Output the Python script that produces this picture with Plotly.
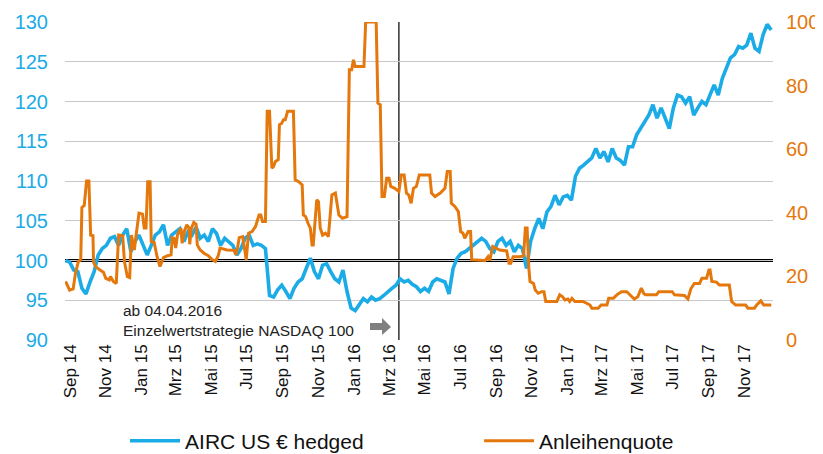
import plotly.graph_objects as go
import pandas as pd

# ---------------- data ----------------
airc_start = "2014-09-10"
airc_values = [
    100.0, 99.8, 98.8, 98.6, 96.5, 95.8, 97.3, 98.6, 100.7, 101.5,
    101.9, 102.8, 103.0, 101.9, 103.2, 104.0, 101.1, 102.4, 103.2, 101.9,
    100.7, 101.9, 103.2, 103.6, 104.5, 101.9, 103.2, 103.6, 104.0, 102.4,
    103.6, 103.2, 104.2, 102.8, 103.2, 102.4, 104.0, 103.4, 101.9, 102.8,
    102.4, 101.9, 100.7, 101.5, 102.8, 103.2, 101.9, 102.1, 101.9, 101.5,
    95.6, 95.4, 96.3, 96.9, 96.1, 95.2, 96.5, 97.3, 97.7, 99.0,
    100.3, 98.6, 97.7, 99.4, 99.6, 98.6, 97.7, 97.3, 98.8, 96.1,
    94.0, 93.7, 94.4, 95.2, 94.8, 95.4, 95.0, 95.2, 95.6, 96.1,
    96.5, 96.9, 97.7, 97.3, 97.5, 97.0, 96.7, 96.1, 96.5, 96.1,
    97.3, 97.7, 97.5, 97.3, 95.8, 99.0, 100.3, 100.9, 101.1, 101.5,
    101.9, 102.4, 102.8, 102.4, 101.5, 101.1, 102.4, 102.8, 101.9, 102.4,
    101.1, 101.9, 101.5, 99.0, 102.4, 104.0, 105.3, 104.0, 106.1, 106.8,
    108.2, 107.0, 108.0, 108.2, 107.6, 110.6, 111.6, 112.0, 112.5, 112.9,
    114.1, 112.9, 113.7, 112.4, 114.1, 112.9, 112.6, 112.0, 114.3, 114.3,
    115.8, 116.6, 117.5, 118.3, 119.6, 117.9, 119.2, 117.9, 116.6, 119.2,
    120.8, 120.6, 119.8, 120.6, 118.3, 119.2, 120.0, 119.6, 120.8, 122.1,
    120.8, 122.9, 124.2, 125.5, 125.9, 126.9, 126.7, 127.1, 128.6, 126.7,
    126.3, 128.4, 129.7, 129.0,
]
airc_dates = pd.date_range(airc_start, periods=len(airc_values), freq="7D")

quote_dates = [
    "2014-09-10", "2014-09-17", "2014-09-23", "2014-09-27", "2014-10-02", "2014-10-06",
    "2014-10-08", "2014-10-12", "2014-10-16", "2014-10-20", "2014-10-23", "2014-10-27",
    "2014-10-28", "2014-11-01", "2014-11-08", "2014-11-14", "2014-11-18", "2014-11-24",
    "2014-11-26", "2014-12-01", "2014-12-06", "2014-12-10", "2014-12-17", "2014-12-20",
    "2014-12-25", "2014-12-29", "2015-01-01", "2015-01-06", "2015-01-09", "2015-01-14",
    "2015-01-20", "2015-01-23", "2015-01-26", "2015-01-29", "2015-02-02", "2015-02-04",
    "2015-02-09", "2015-02-14", "2015-02-19", "2015-02-25", "2015-03-04", "2015-03-10",
    "2015-03-12", "2015-03-15", "2015-03-18", "2015-03-21", "2015-03-27", "2015-03-29",
    "2015-04-02", "2015-04-06", "2015-04-10", "2015-04-11", "2015-04-14", "2015-04-18",
    "2015-04-22", "2015-04-24", "2015-04-29", "2015-05-06", "2015-05-13", "2015-05-19",
    "2015-05-25", "2015-05-30", "2015-06-02", "2015-06-14", "2015-06-26", "2015-06-29",
    "2015-07-02", "2015-07-05", "2015-07-11", "2015-07-17", "2015-07-21", "2015-07-27",
    "2015-08-02", "2015-08-08", "2015-08-11", "2015-08-14", "2015-08-19", "2015-08-22",
    "2015-08-26", "2015-08-30", "2015-09-02", "2015-09-05", "2015-09-10", "2015-09-12",
    "2015-09-16", "2015-09-19", "2015-09-22", "2015-09-26", "2015-10-06", "2015-10-09",
    "2015-10-15", "2015-10-21", "2015-10-23", "2015-10-27", "2015-10-31", "2015-11-04",
    "2015-11-07", "2015-11-09", "2015-11-15", "2015-11-18", "2015-11-21", "2015-11-25",
    "2015-11-30", "2015-12-05", "2015-12-11", "2015-12-17", "2015-12-23", "2015-12-29",
    "2016-01-06", "2016-01-10", "2016-01-14", "2016-01-17", "2016-01-20", "2016-02-04",
    "2016-02-07", "2016-02-25", "2016-02-28", "2016-03-03", "2016-03-06", "2016-03-10",
    "2016-03-14", "2016-03-18", "2016-03-21", "2016-03-28", "2016-04-04", "2016-04-08",
    "2016-04-13", "2016-04-17", "2016-04-21", "2016-04-25", "2016-04-29", "2016-05-04",
    "2016-05-09", "2016-05-27", "2016-05-30", "2016-06-05", "2016-06-14", "2016-06-22",
    "2016-06-26", "2016-07-01", "2016-07-03", "2016-07-09", "2016-07-15", "2016-07-19",
    "2016-07-23", "2016-07-26", "2016-08-01", "2016-08-05", "2016-08-07", "2016-08-30",
    "2016-09-04", "2016-09-07", "2016-09-12", "2016-09-24", "2016-10-06", "2016-10-10",
    "2016-10-13", "2016-10-17", "2016-10-29", "2016-11-04", "2016-11-07", "2016-11-10",
    "2016-11-13", "2016-11-15", "2016-11-21", "2016-11-24", "2016-11-29", "2016-12-05",
    "2016-12-09", "2016-12-12", "2016-12-31", "2017-01-05", "2017-01-10", "2017-01-14",
    "2017-01-19", "2017-01-22", "2017-01-26", "2017-01-31", "2017-02-14", "2017-02-20",
    "2017-02-26", "2017-03-01", "2017-03-12", "2017-03-17", "2017-03-27", "2017-03-30",
    "2017-04-07", "2017-04-13", "2017-04-21", "2017-04-30", "2017-05-05", "2017-05-13",
    "2017-05-19", "2017-05-25", "2017-05-29", "2017-06-01", "2017-06-20", "2017-06-24",
    "2017-07-17", "2017-07-21", "2017-08-07", "2017-08-13", "2017-08-18", "2017-08-24",
    "2017-09-02", "2017-09-06", "2017-09-14", "2017-09-18", "2017-09-20", "2017-09-23",
    "2017-10-01", "2017-10-06", "2017-10-23", "2017-10-27", "2017-11-03", "2017-11-20",
    "2017-11-24", "2017-12-05", "2017-12-09", "2017-12-16", "2017-12-21", "2018-01-03",
]
quote_values = [
    18.4, 15.7, 16.1, 21.0, 24.7, 25.2,
    41.7, 42.3, 50.0, 50.0, 33.0, 32.8,
    24.4, 23.0, 22.0, 21.3, 19.4, 18.9,
    20.0, 18.4, 17.8, 33.0, 32.8, 24.7,
    19.9, 19.6, 33.0, 28.3, 33.0, 39.9,
    39.6, 35.2, 35.2, 49.8, 49.8, 31.0,
    30.7, 26.2, 23.1, 25.9, 26.5, 26.8,
    32.2, 32.0, 28.9, 33.0, 35.2, 30.4,
    34.3, 36.2, 35.2, 30.1, 35.2, 37.0,
    36.4, 29.9, 28.3, 27.2, 26.5, 25.4,
    24.7, 26.5, 28.9, 28.3, 28.2, 26.8,
    28.9, 32.2, 32.5, 25.2, 33.6, 34.1,
    35.7, 39.3, 39.3, 37.3, 37.3, 71.9,
    71.9, 54.0, 54.6, 56.1, 56.7, 67.7,
    68.2, 69.3, 69.3, 71.9, 71.9, 50.4,
    49.8, 48.8, 39.3, 38.8, 36.7, 35.2,
    29.9, 29.9, 44.1, 43.5, 35.2, 33.0,
    33.6, 32.5, 45.6, 46.2, 39.3, 38.3,
    38.8, 85.0, 85.0, 88.1, 86.0, 86.0,
    100.0, 100.0, 74.5, 74.0, 45.1, 45.1,
    50.9, 50.9, 48.3, 47.7, 46.7, 51.9,
    51.9, 46.2, 45.6, 43.0, 47.7, 48.3,
    51.9, 51.9, 46.2, 45.1, 46.2, 47.7,
    53.0, 53.0, 43.0, 42.0, 40.4, 34.1,
    33.6, 32.0, 34.1, 34.1, 25.2, 25.0,
    26.2, 25.0, 29.4, 28.3, 28.0, 24.1,
    24.1, 26.2, 26.2, 26.5, 35.2, 35.2,
    22.6, 18.4, 17.8, 15.7, 14.7, 15.2,
    15.2, 12.1, 12.1, 14.2, 13.6, 12.6,
    12.9, 12.1, 13.1, 12.1, 12.1, 11.5,
    11.0, 10.0, 10.0, 11.0, 11.0, 13.1,
    13.1, 14.2, 15.2, 15.2, 14.2, 12.9,
    13.6, 16.3, 14.7, 14.2, 14.2, 15.2,
    15.2, 14.2, 14.0, 12.9, 16.1, 17.8,
    17.8, 19.4, 19.4, 22.0, 22.0, 18.4,
    18.2, 17.3, 17.3, 12.1, 11.0, 11.0,
    10.0, 10.0, 11.0, 12.3, 11.0, 11.0,
]

tick_dates = [
    "2014-09-18", "2014-11-18", "2015-01-18", "2015-03-18", "2015-05-18",
    "2015-07-18", "2015-09-18", "2015-11-18", "2016-01-18", "2016-03-18",
    "2016-05-18", "2016-07-18", "2016-09-18", "2016-11-18", "2017-01-18",
    "2017-03-18", "2017-05-18", "2017-07-18", "2017-09-18", "2017-11-18",
]
tick_labels = [
    "Sep 14", "Nov 14", "Jan 15", "Mrz 15", "Mai 15", "Jul 15", "Sep 15",
    "Nov 15", "Jan 16", "Mrz 16", "Mai 16", "Jul 16", "Sep 16", "Nov 16",
    "Jan 17", "Mrz 17", "Mai 17", "Jul 17", "Sep 17", "Nov 17",
]
x_range = ["2014-09-09", "2018-01-06"]
left_range = [90, 130]
right_range = [0, 100]
event_date = "2016-04-04"
baseline_value = 100

series_names = ["AIRC US € hedged", "Anleihenquote"]
note_text = "ab 04.04.2016<br>Einzelwertstrategie NASDAQ 100"
title_text = "Wertentwicklung und Anleihenquote (%)"

# ---------------- styles ----------------
BLUE = "#1BABE6"
ORANGE = "#E4780C"
FONT = "Liberation Sans, Arial, sans-serif"
LEGEND_FONT = "Liberation Sans Narrow, Arial Narrow, Liberation Sans, sans-serif"

# the page body has an 8px default margin, so the figure is 8px smaller
FIG_W, FIG_H = 815, 446

fig = go.Figure()
fig.add_trace(go.Scatter(
    x=airc_dates, y=airc_values, name=series_names[0], mode="lines",
    line=dict(color=BLUE, width=3.6), yaxis="y", legend="legend",
))
fig.add_trace(go.Scatter(
    x=quote_dates, y=quote_values, name=series_names[1], mode="lines",
    line=dict(color=ORANGE, width=3.0), yaxis="y2", legend="legend2",
))

fig.add_shape(type="line", xref="paper", x0=0, x1=1, yref="y", y0=baseline_value,
              y1=baseline_value, line=dict(color="black", width=3), layer="below")
fig.add_shape(type="line", xref="x", x0=event_date, x1=event_date, yref="paper",
              y0=0, y1=1, line=dict(color="black", width=1.2), layer="below")
# grey block arrow next to the note
fig.add_shape(type="path", xref="paper", yref="paper",
              path="M 0.4308,0.0535 L 0.4478,0.0535 L 0.4478,0.0692 L 0.4605,0.0409 "
                   "L 0.4478,0.0157 L 0.4478,0.0314 L 0.4308,0.0314 Z",
              fillcolor="#7F7F7F", line=dict(width=0))

fig.add_annotation(text=note_text, xref="paper", yref="paper", x=0.079, y=0.06,
                   xanchor="left", yanchor="middle", align="left", showarrow=False,
                   font=dict(family=FONT, size=15.5, color="#222222"))
fig.add_annotation(text=title_text, xref="paper", yref="paper", x=0.58, y=1,
                   xanchor="right", yanchor="bottom", yshift=15, showarrow=False,
                   font=dict(family=FONT, size=13, color="#404040"))

legend_common = dict(orientation="h", xref="container", yref="container",
                     xanchor="left", y=0.029, yanchor="middle",
                     font=dict(family=LEGEND_FONT, size=21, color="#111111"),
                     bgcolor="rgba(0,0,0,0)", itemclick=False, itemwidth=50)

fig.update_layout(
    width=FIG_W, height=FIG_H,
    margin=dict(l=57, r=50, t=14, b=114, autoexpand=False),
    paper_bgcolor="white", plot_bgcolor="white",
    font=dict(family=FONT),
    showlegend=True,
    legend=dict(x=0.1436, **legend_common),
    legend2=dict(x=0.578, **legend_common),
    xaxis=dict(type="date", range=x_range, tickvals=tick_dates, ticktext=tick_labels,
               tickangle=-90, tickfont=dict(size=17, color="#111111"),
               showgrid=False, showline=False, zeroline=False, ticks="",
               automargin=False),
    yaxis=dict(range=left_range, dtick=5, tickfont=dict(size=20, color=BLUE),
               gridcolor="#C8C8C8", gridwidth=1, zeroline=False, showline=False,
               ticks="", ticklabelstandoff=16, automargin=False),
    yaxis2=dict(range=right_range, dtick=20, overlaying="y", side="right",
                tickfont=dict(size=20, color=ORANGE), showgrid=False,
                zeroline=False, showline=False, ticks="", ticklabelstandoff=12,
                automargin=False),
)

fig.write_html("out.html")
